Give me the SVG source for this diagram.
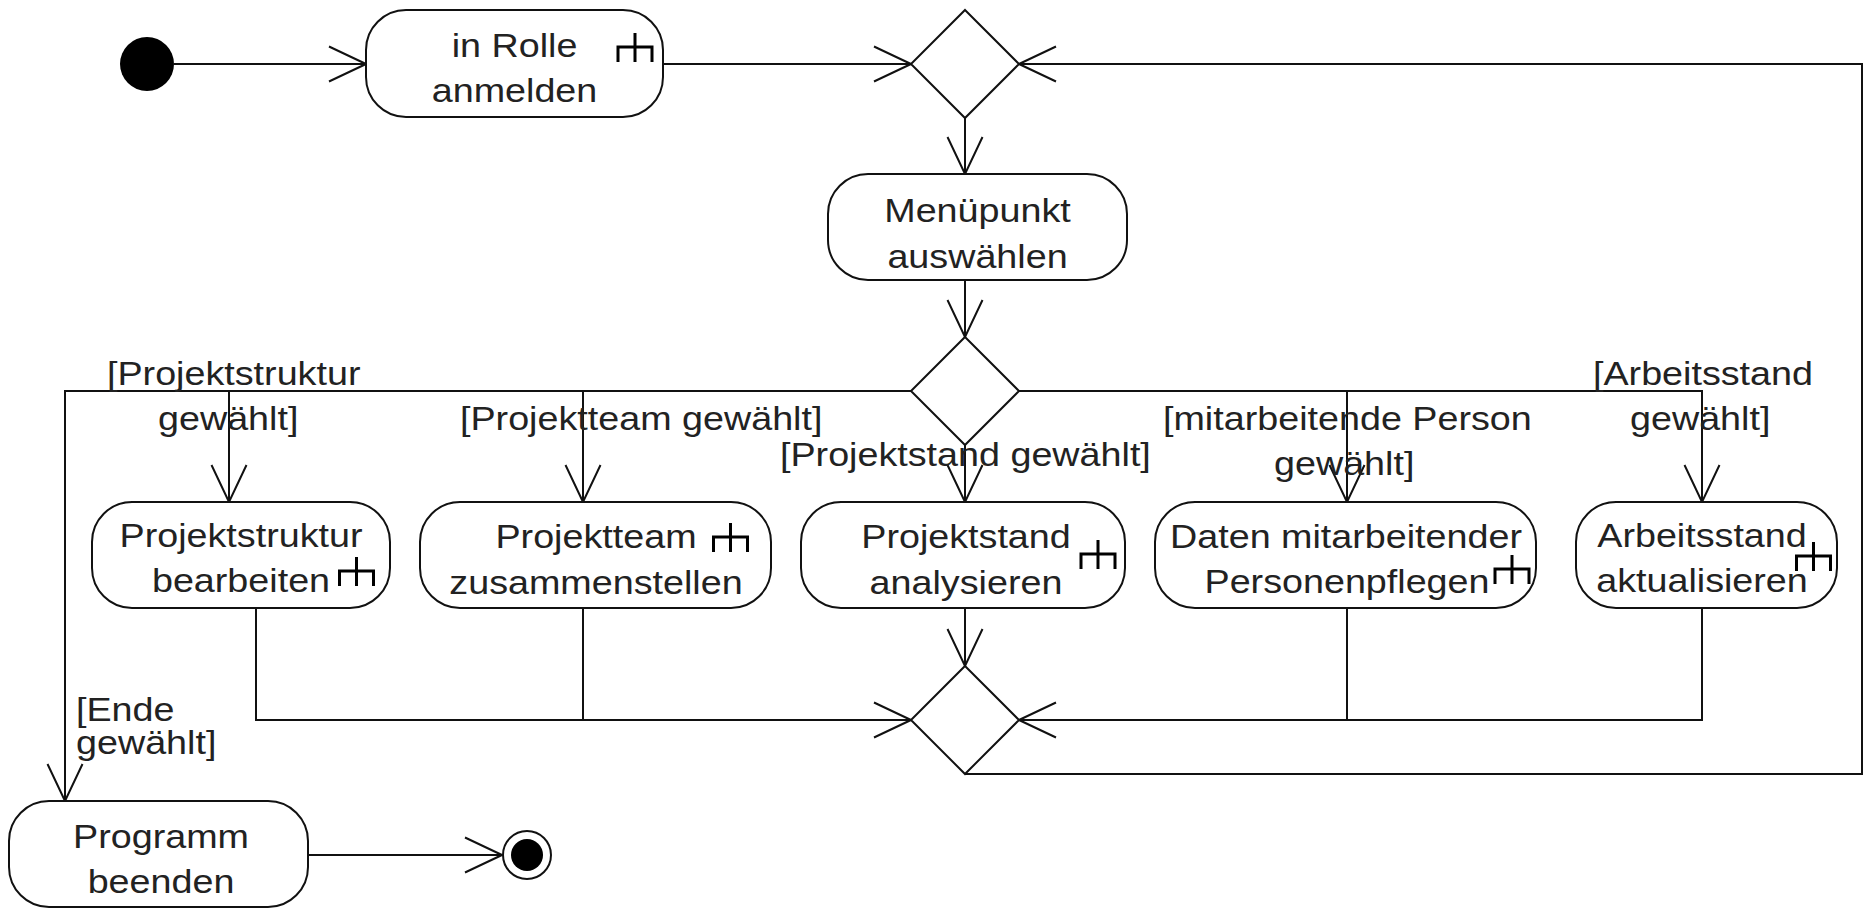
<svg xmlns="http://www.w3.org/2000/svg" xmlns:xlink="http://www.w3.org/1999/xlink" width="1864" height="908" viewBox="0 0 1864 908">
<style>
  .box { fill: #fff; stroke: #111; stroke-width: 2; }
  .dia { fill: #fff; stroke: #111; stroke-width: 2; }
  .edge { fill: none; stroke: #111; stroke-width: 2; }
  .arr { marker-end: url(#arr); }
  text { font-family: "Liberation Sans", Arial, sans-serif; font-size: 32.5px; fill: #222; }
  .c { text-anchor: middle; }
  .rake { fill: none; stroke: #000; stroke-width: 3; }
</style>
<defs>
  <marker id="arr" markerUnits="userSpaceOnUse" markerWidth="40" markerHeight="38" viewBox="0 0 40 38" refX="38" refY="19" orient="auto">
    <path d="M1,1.5 L38,19 L1,36.5" fill="none" stroke="#111" stroke-width="2"/>
  </marker>
  <path id="rake" d="M0,0 V29 M-17,29 V14 H17 V29"/>
</defs>
<rect width="1864" height="908" fill="#fff"/>

<g id="connectors">
  <line class="edge arr" x1="174" y1="64" x2="366" y2="64"/>
  <line class="edge arr" x1="663" y1="64" x2="911" y2="64"/>
  <path class="edge arr" d="M965,774 H1862 V64 H1019"/>
  <line class="edge arr" x1="965" y1="118" x2="965" y2="174"/>
  <line class="edge arr" x1="965" y1="280" x2="965" y2="337"/>
  <path class="edge arr" d="M911,391 H65 V801"/>
  <line class="edge arr" x1="229" y1="391" x2="229" y2="502"/>
  <line class="edge arr" x1="583" y1="391" x2="583" y2="502"/>
  <line class="edge arr" x1="965" y1="445" x2="965" y2="502"/>
  <path class="edge arr" d="M1019,391 H1702 V502"/>
  <line class="edge arr" x1="1347" y1="391" x2="1347" y2="502"/>
  <path class="edge arr" d="M256,608 V720 H911"/>
  <line class="edge" x1="583" y1="608" x2="583" y2="720"/>
  <line class="edge arr" x1="965" y1="608" x2="965" y2="666"/>
  <path class="edge arr" d="M1702,608 V720 H1019"/>
  <line class="edge" x1="1347" y1="608" x2="1347" y2="720"/>
  <line class="edge arr" x1="308" y1="855" x2="502" y2="855"/>
</g>

<g id="guards">
  <text transform="translate(107,0) scale(1.16,1)" x="0" y="385">[Projektstruktur</text>
  <text transform="translate(158,0) scale(1.16,1)" x="0" y="430">gewählt]</text>
  <text transform="translate(460,0) scale(1.16,1)" x="0" y="430">[Projektteam gewählt]</text>
  <text transform="translate(780,0) scale(1.16,1)" x="0" y="466">[Projektstand gewählt]</text>
  <text transform="translate(1163,0) scale(1.16,1)" x="0" y="430">[mitarbeitende Person</text>
  <text transform="translate(1274,0) scale(1.16,1)" x="0" y="475">gewählt]</text>
  <text transform="translate(1593,0) scale(1.16,1)" x="0" y="385">[Arbeitsstand</text>
  <text transform="translate(1630,0) scale(1.16,1)" x="0" y="430">gewählt]</text>
  <text transform="translate(76,0) scale(1.16,1)" x="0" y="721">[Ende</text>
  <text transform="translate(76,0) scale(1.16,1)" x="0" y="754">gewählt]</text>
</g>

<g id="start">
  <circle cx="147" cy="64" r="27" fill="#000"/>
</g>

<g id="inRolleAnmelden">
  <rect class="box" x="366" y="10" width="297" height="107" rx="40" ry="40"/>
  <text class="c" transform="translate(514.5,0) scale(1.16,1)" x="0" y="57">in Rolle</text>
  <text class="c" transform="translate(514.5,0) scale(1.16,1)" x="0" y="102">anmelden</text>
  <use href="#rake" class="rake" x="635" y="33"/>
</g>

<g id="merge1">
  <polygon class="dia" points="965,10 1019,64 965,118 911,64"/>
</g>

<g id="menuepunktAuswaehlen">
  <rect class="box" x="828" y="174" width="299" height="106" rx="40" ry="40"/>
  <text class="c" transform="translate(977.5,0) scale(1.16,1)" x="0" y="222">Menüpunkt</text>
  <text class="c" transform="translate(977.5,0) scale(1.16,1)" x="0" y="268">auswählen</text>
</g>

<g id="decision">
  <polygon class="dia" points="965,337 1019,391 965,445 911,391"/>
</g>

<g id="projektstruktur">
  <rect class="box" x="92" y="502" width="298" height="106" rx="40" ry="40"/>
  <text class="c" transform="translate(241,0) scale(1.16,1)" x="0" y="547">Projektstruktur</text>
  <text class="c" transform="translate(241,0) scale(1.16,1)" x="0" y="592">bearbeiten</text>
  <use href="#rake" class="rake" x="356.5" y="557"/>
</g>

<g id="projektteam">
  <rect class="box" x="420" y="502" width="351" height="106" rx="40" ry="40"/>
  <text class="c" transform="translate(596,0) scale(1.16,1)" x="0" y="548">Projektteam</text>
  <text class="c" transform="translate(596,0) scale(1.16,1)" x="0" y="594">zusammenstellen</text>
  <use href="#rake" class="rake" x="730.5" y="523"/>
</g>

<g id="projektstand">
  <rect class="box" x="801" y="502" width="324" height="106" rx="40" ry="40"/>
  <text class="c" transform="translate(966,0) scale(1.16,1)" x="0" y="548">Projektstand</text>
  <text class="c" transform="translate(966,0) scale(1.16,1)" x="0" y="594">analysieren</text>
  <use href="#rake" class="rake" x="1098" y="540"/>
</g>

<g id="datenMitarbeitender">
  <rect class="box" x="1155" y="502" width="381" height="106" rx="40" ry="40"/>
  <text class="c" transform="translate(1346,0) scale(1.16,1)" x="0" y="548">Daten mitarbeitender</text>
  <text class="c" transform="translate(1347,0) scale(1.16,1)" x="0" y="593">Personenpflegen</text>
  <use href="#rake" class="rake" x="1512" y="555"/>
</g>

<g id="arbeitsstand">
  <rect class="box" x="1576" y="502" width="261" height="106" rx="40" ry="40"/>
  <text class="c" transform="translate(1702,0) scale(1.16,1)" x="0" y="547">Arbeitsstand</text>
  <text class="c" transform="translate(1702,0) scale(1.16,1)" x="0" y="592">aktualisieren</text>
  <use href="#rake" class="rake" x="1813.5" y="542"/>
</g>

<g id="merge2">
  <polygon class="dia" points="965,666 1019,720 965,774 911,720"/>
</g>

<g id="programmBeenden">
  <rect class="box" x="9" y="801" width="299" height="106" rx="40" ry="40"/>
  <text class="c" transform="translate(161,0) scale(1.16,1)" x="0" y="848">Programm</text>
  <text class="c" transform="translate(161,0) scale(1.16,1)" x="0" y="893">beenden</text>
</g>

<g id="end">
  <circle cx="527" cy="855" r="24" fill="#fff" stroke="#111" stroke-width="2"/>
  <circle cx="527" cy="855" r="16" fill="#000"/>
</g>
</svg>
